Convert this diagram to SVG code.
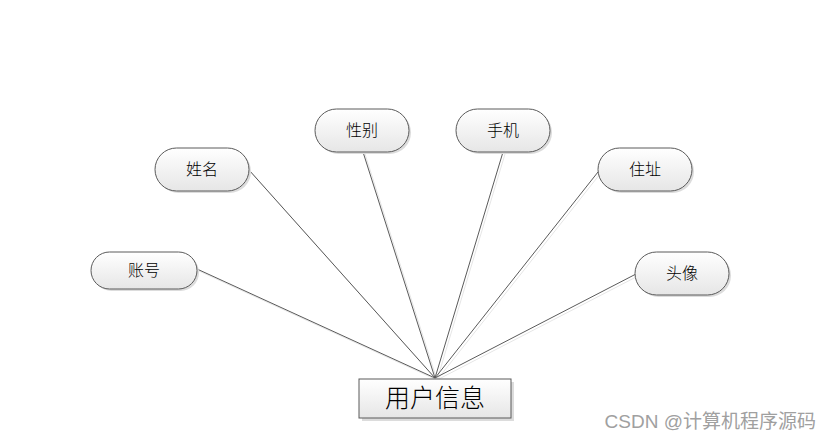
<svg xmlns="http://www.w3.org/2000/svg" width="831" height="440" viewBox="0 0 831 440">
<defs>
<linearGradient id="g" x1="0" y1="0" x2="0" y2="1">
<stop offset="0" stop-color="#ffffff"/>
<stop offset="1" stop-color="#e6e6e6"/>
</linearGradient>
<style>
.n{fill:url(#g);stroke:#5a5a5a;stroke-width:1}
.s{fill:#dcdcdc;stroke:none}
.t{font-family:"Liberation Sans","Noto Sans CJK SC",sans-serif;font-size:16px;font-weight:300;fill:#000;text-anchor:middle}
.c{stroke:#5a5a5a;stroke-width:1;fill:none}
.cs{stroke:#e6e6e6;stroke-width:1;fill:none}
</style>
</defs>
<rect width="831" height="440" fill="#fff"/>
<g id="connectors">
<g transform="translate(2,2)">
<line class="cs" x1="197" y1="269" x2="435" y2="378"/>
<line class="cs" x1="249" y1="170" x2="435" y2="378"/>
<line class="cs" x1="363" y1="152" x2="435" y2="378"/>
<line class="cs" x1="503" y1="152" x2="435" y2="378"/>
<line class="cs" x1="598" y1="172" x2="435" y2="378"/>
<line class="cs" x1="636" y1="274" x2="435" y2="378"/>
</g>
<line class="c" x1="197" y1="269" x2="435" y2="378"/>
<line class="c" x1="249" y1="170" x2="435" y2="378"/>
<line class="c" x1="363" y1="152" x2="435" y2="378"/>
<line class="c" x1="503" y1="152" x2="435" y2="378"/>
<line class="c" x1="598" y1="172" x2="435" y2="378"/>
<line class="c" x1="636" y1="274" x2="435" y2="378"/>
</g>
<g id="n-zhanghao">
<rect class="s" x="93" y="254" width="106" height="37" rx="18.5"/>
<rect class="n" x="91" y="252" width="106" height="37" rx="18.5"/>
<text class="t" x="144" y="276">账号</text>
</g>
<g id="n-xingming">
<rect class="s" x="157" y="150" width="94" height="43" rx="21.5"/>
<rect class="n" x="155" y="148" width="94" height="43" rx="21.5"/>
<text class="t" x="202" y="175">姓名</text>
</g>
<g id="n-xingbie">
<rect class="s" x="317" y="111" width="94" height="43" rx="21.5"/>
<rect class="n" x="315" y="109" width="94" height="43" rx="21.5"/>
<text class="t" x="362" y="136">性别</text>
</g>
<g id="n-shouji">
<rect class="s" x="458" y="111" width="94" height="43" rx="21.5"/>
<rect class="n" x="456" y="109" width="94" height="43" rx="21.5"/>
<text class="t" x="503" y="136">手机</text>
</g>
<g id="n-zhuzhi">
<rect class="s" x="600" y="150" width="94" height="43" rx="21.5"/>
<rect class="n" x="598" y="148" width="94" height="43" rx="21.5"/>
<text class="t" x="645" y="175">住址</text>
</g>
<g id="n-touxiang">
<rect class="s" x="637" y="254" width="94" height="43" rx="21.5"/>
<rect class="n" x="635" y="252" width="94" height="43" rx="21.5"/>
<text class="t" x="682" y="279">头像</text>
</g>
<g id="n-yonghuxinxi">
<rect class="s" x="362" y="382" width="152" height="39"/>
<rect class="n" x="359" y="379" width="152" height="39"/>
<text class="t" x="435" y="407" style="font-size:25px">用户信息</text>
</g>
<text x="816" y="428" style="font-family:'Liberation Sans','Noto Sans CJK SC',sans-serif;font-size:19px;fill:#a0a0a0;text-anchor:end">CSDN @计算机程序源码</text>
</svg>
